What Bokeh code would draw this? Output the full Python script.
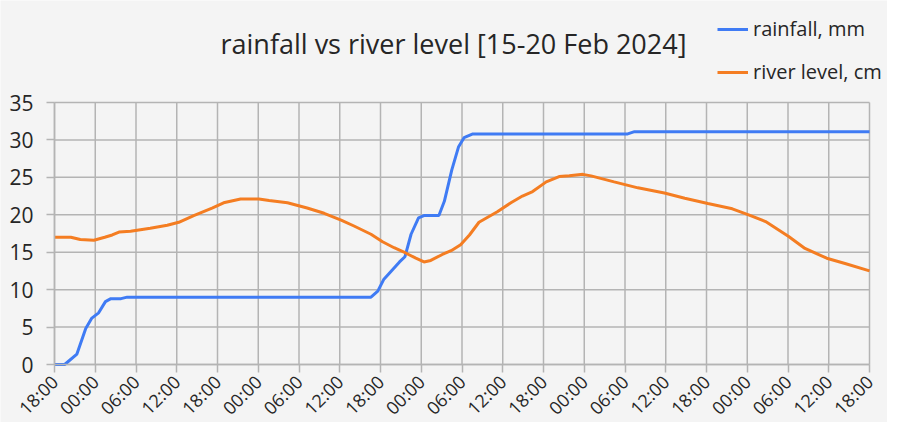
from bokeh.plotting import figure
from bokeh.models import FixedTicker, Legend, LegendItem, Range1d, Label
from bokeh.embed import file_html
from bokeh.resources import INLINE
import math

# hours since 15 Feb 2024 18:00
rain_hours = [0, 1.5, 3.3, 4.6, 5.5, 6.5, 7.5, 8.3, 9.8, 10.7, 46.6, 47.6, 48.5, 49.7, 50.8,
              51.6, 52.5, 53.6, 54.4, 56.6, 57.4, 58.5, 59.5, 60.3, 61.6, 84.4, 85.4, 120]
rain_mm = [0, 0, 1.4, 4.8, 6.2, 6.9, 8.4, 8.8, 8.8, 9.0, 9.0, 9.8, 11.4, 12.6, 13.7,
           14.4, 17.4, 19.6, 19.9, 19.9, 21.8, 26.0, 29.1, 30.3, 30.8, 30.8, 31.1, 31.1]

river_hours = [0, 2.4, 3.8, 5.8, 7.4, 8.5, 9.5, 11.2, 14.1, 16.6, 18.3, 20.5, 23.2, 24.9, 27.4,
               30.1, 31.6, 34.3, 37.2, 39.7, 42.2, 44.1, 46.6, 48.3, 50.0, 51.7, 53.2, 54.4,
               55.4, 57.1, 58.4, 59.8, 61.1, 62.5, 65.2, 67.2, 68.9, 70.4, 72.4, 74.3, 75.8,
               77.8, 79.0, 82.4, 85.9, 89.8, 92.8, 96.2, 99.8, 102.2, 104.7, 108.1, 110.5,
               113.7, 116.4, 120]
river_cm = [17.0, 17.0, 16.7, 16.6, 17.0, 17.3, 17.7, 17.8, 18.2, 18.6, 19.0, 19.9, 20.9, 21.6, 22.1,
            22.1, 21.9, 21.6, 20.9, 20.2, 19.3, 18.5, 17.4, 16.4, 15.6, 14.9, 14.2, 13.7,
            13.9, 14.7, 15.2, 16.0, 17.3, 19.0, 20.4, 21.6, 22.5, 23.1, 24.4, 25.1, 25.2,
            25.4, 25.2, 24.4, 23.6, 22.9, 22.2, 21.5, 20.8, 20.0, 19.1, 17.1, 15.5,
            14.2, 13.5, 12.5]

tick_hours = list(range(0, 121, 6))
tick_labels = ["18:00", "00:00", "06:00", "12:00"] * 5 + ["18:00"]
y_ticks = [0, 5, 10, 15, 20, 25, 30, 35]
title_text = "rainfall vs river level [15-20 Feb 2024]"

BG = "#f4f4f4"
GRID = "#b4b4b4"
TEXT = "#262626"
BLUE = "#3f7bf4"
ORANGE = "#f47d22"
FONT = "Open Sans"

# layout (screen pixels): plot grid box spans x 54..869, y 102..364
W, H = 887, 422
BOX_LEFT, BOX_RIGHT, BOX_TOP, BOX_BOTTOM = 54, 869, 102, 364
px_per_hour = (BOX_RIGHT - BOX_LEFT) / (tick_hours[-1] - tick_hours[0])
px_per_unit = (BOX_BOTTOM - BOX_TOP) / (y_ticks[-1] - y_ticks[0])
x_start = tick_hours[0] - BOX_LEFT / px_per_hour
x_end = tick_hours[0] + (W - BOX_LEFT) / px_per_hour
y_start = y_ticks[0] - (H - BOX_BOTTOM) / px_per_unit
y_end = y_ticks[-1] + BOX_TOP / px_per_unit

p = figure(width=W, height=H, output_backend="svg", toolbar_location=None,
           x_range=Range1d(x_start, x_end), y_range=Range1d(y_start, y_end),
           min_border_left=0, min_border_right=0, min_border_top=0, min_border_bottom=0,
           background_fill_color=BG, border_fill_color=BG)
p.outline_line_color = None
p.grid.grid_line_color = None

p.xaxis.ticker = FixedTicker(ticks=tick_hours)
p.xaxis.major_label_overrides = {h: lab for h, lab in zip(tick_hours, tick_labels)}
p.xaxis.major_label_orientation = math.pi / 4
p.xaxis.bounds = (tick_hours[0], tick_hours[-1])
p.xaxis.fixed_location = y_ticks[0]
p.yaxis.ticker = FixedTicker(ticks=y_ticks)
p.yaxis.bounds = (y_ticks[0], y_ticks[-1])
p.yaxis.fixed_location = tick_hours[0]

for ax in (p.xaxis[0], p.yaxis[0]):
    ax.axis_line_color = GRID
    ax.axis_line_width = 1.5
    ax.major_tick_line_color = GRID
    ax.major_tick_line_width = 1.5
    ax.major_tick_out = 8
    ax.major_tick_in = 0
    ax.minor_tick_line_color = None
    ax.major_label_text_font = FONT
    ax.major_label_text_color = TEXT
p.yaxis.major_label_text_font_size = "21px"
p.yaxis.major_label_standoff = 13
p.xaxis.major_label_text_font_size = "18px"
p.xaxis.major_label_standoff = 6

# grid lines limited to the 0..35 / 18:00..18:00 box
p.segment(x0=tick_hours, y0=[y_ticks[0]] * len(tick_hours),
          x1=tick_hours, y1=[y_ticks[-1]] * len(tick_hours),
          line_color=GRID, line_width=1.5)
p.segment(x0=[tick_hours[0]] * len(y_ticks), y0=y_ticks,
          x1=[tick_hours[-1]] * len(y_ticks), y1=y_ticks,
          line_color=GRID, line_width=1.5)

r1 = p.line(rain_hours, rain_mm, line_color=BLUE, line_width=3)
r2 = p.line(river_hours, river_cm, line_color=ORANGE, line_width=3)

title = Label(x=453, y=H - 43, x_units="screen", y_units="screen",
              text=title_text, text_align="center", text_baseline="middle",
              text_font=FONT, text_font_size="27px", text_color=TEXT)
p.add_layout(title)

legend = Legend(items=[LegendItem(label="rainfall, mm", renderers=[r1]),
                       LegendItem(label="river level, cm", renderers=[r2])],
                location=(717, H - 85), orientation="vertical")
legend.background_fill_alpha = 0
legend.border_line_color = None
legend.padding = 0
legend.margin = 0
legend.spacing = 16
legend.glyph_width = 31
legend.glyph_height = 20
legend.label_height = 20
legend.label_standoff = 5
legend.label_text_font = FONT
legend.label_text_font_size = "20px"
legend.label_text_color = TEXT
p.add_layout(legend, "center")

open("out.html", "w").write(file_html(p, INLINE))
